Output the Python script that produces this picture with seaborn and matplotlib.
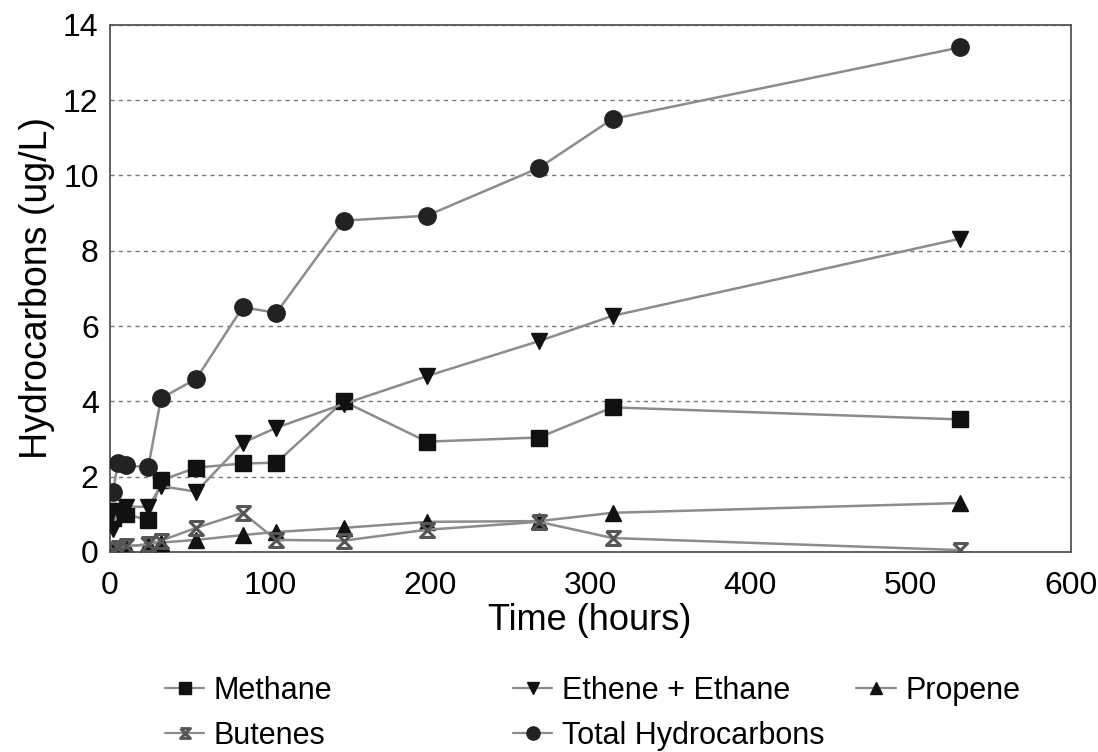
import numpy as np
import pandas as pd
import matplotlib
matplotlib.use("Agg")
import matplotlib.pyplot as plt
import seaborn as sns
from matplotlib.lines import Line2D
from matplotlib.ticker import MultipleLocator

# values
hours = [2, 5, 10, 24, 32, 54, 83, 104, 146, 198, 268, 314, 531]
methane = [0.9, 1.1, 1.0, 0.85, 1.9, 2.24, 2.35, 2.37, 4.0, 2.93, 3.04, 3.84, 3.52]
ethene_ethane = [0.6, 1.1, 1.2, 1.2, 1.75, 1.6, 2.9, 3.3, 3.93, 4.67, 5.6, 6.27, 8.32]
propene = [0.05, 0.1, 0.15, 0.2, 0.25, 0.32, 0.45, 0.53, 0.64, 0.8, 0.82, 1.04, 1.3]
butenes = [0.05, 0.1, 0.15, 0.2, 0.3, 0.64, 1.04, 0.32, 0.3, 0.59, 0.8, 0.37, 0.05]
total = [1.6, 2.35, 2.3, 2.25, 4.08, 4.6, 6.5, 6.35, 8.8, 8.93, 10.2, 11.5, 13.4]

series_names = ["Methane", "Ethene + Ethane", "Propene", "Butenes", "Total Hydrocarbons"]
series_vals = [methane, ethene_ethane, propene, butenes, total]

sns.set_style("white")
plt.rcParams["font.family"] = ["Liberation Sans", "DejaVu Sans"]
plt.rcParams["text.color"] = "black"
plt.rcParams["axes.labelcolor"] = "black"
plt.rcParams["xtick.color"] = "black"
plt.rcParams["ytick.color"] = "black"

df = pd.DataFrame({
    "hours": np.tile(hours, len(series_names)),
    "value": np.concatenate(series_vals),
    "series": np.repeat(series_names, len(hours)),
})

# hourglass outline used by the scan for butenes
hourglass = [(-1, 1), (1, 1), (-1, -1), (1, -1), (-1, 1)]
styles = {
    "Methane": dict(marker="s", ms=11, mfc="#111111", mec="#111111"),
    "Ethene + Ethane": dict(marker="v", ms=12, mfc="#111111", mec="#111111"),
    "Propene": dict(marker="^", ms=12, mfc="#111111", mec="#111111"),
    "Butenes": dict(marker=hourglass, ms=10, mfc="none", mec="#555555", mew=2.2),
    "Total Hydrocarbons": dict(marker="o", ms=12.5, mfc="#222222", mec="#222222"),
}
line_color = "#8c8c8c"

fig = plt.figure(figsize=(10.98, 7.52), dpi=100)
ax = fig.add_axes([0.100, 0.266, 0.875, 0.701])

for name in series_names:
    st = styles[name]
    sub = df[df["series"] == name]
    sns.lineplot(data=sub, x="hours", y="value", ax=ax, color=line_color,
                 linewidth=1.8, marker=st["marker"], markersize=st["ms"],
                 markerfacecolor=st["mfc"], markeredgecolor=st["mec"],
                 markeredgewidth=st.get("mew", 1), sort=False, legend=False,
                 zorder=3)

ax.set_xlim(0, 600)
ax.set_ylim(0, 14)
ax.xaxis.set_major_locator(MultipleLocator(100))
ax.xaxis.set_minor_locator(MultipleLocator(50))
ax.yaxis.set_major_locator(MultipleLocator(2))
ax.yaxis.set_minor_locator(MultipleLocator(1))
ax.tick_params(axis="both", which="major", direction="inout", length=10,
               width=1.2, color="#444444", labelsize=23)
ax.tick_params(axis="x", which="major", pad=9)
ax.tick_params(axis="y", which="major", pad=3)
ax.tick_params(axis="both", which="minor", direction="inout", length=7,
               width=1.0, color="#444444")
ax.grid(axis="y", which="major", linestyle=(0, (3, 3)), color="#777777",
        linewidth=1.0)
for sp in ax.spines.values():
    sp.set_color("#555555")
    sp.set_linewidth(1.3)
ax.set_xlabel("Time (hours)", fontsize=26, labelpad=1)
ax.set_ylabel("Hydrocarbons (ug/L)", fontsize=27, labelpad=6)

def handle(name):
    st = styles[name]
    return Line2D([], [], color=line_color, linewidth=1.6, marker=st["marker"],
                  markersize=st["ms"] - 3, markerfacecolor=st["mfc"],
                  markeredgecolor=st["mec"], markeredgewidth=st.get("mew", 1))

columns = [(["Methane", "Butenes"], 0.150), (["Ethene + Ethane", "Total Hydrocarbons"], 0.467),
           (["Propene"], 0.780)]
for names, xpos in columns:
    fig.legend([handle(n) for n in names], names, loc="upper left",
               bbox_to_anchor=(xpos, 0.101), frameon=False, fontsize=22,
               handlelength=1.3, handletextpad=0.3, labelspacing=0.48,
               borderpad=0, borderaxespad=0)

fig.savefig("out.png", dpi=100)
